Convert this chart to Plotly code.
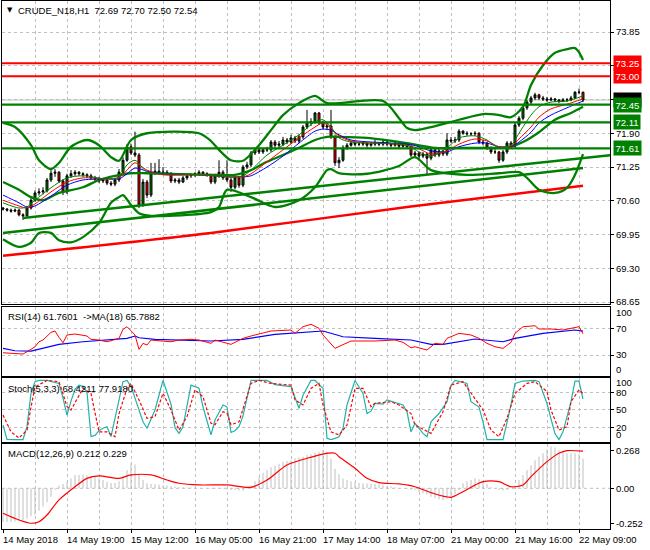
import plotly.graph_objects as go

# ---------------- DATA ----------------
bars = list(range(146))
x_label_bars = [0, 16, 32, 48, 64, 80, 96, 112, 128, 144]
x_labels = ["14 May 2018", "14 May 19:00", "15 May 12:00", "16 May 05:00", "16 May 21:00",
            "17 May 14:00", "18 May 07:00", "21 May 00:00", "21 May 16:00", "22 May 09:00"]

opens = [70.46,70.44,70.42,70.40,70.42,70.33,70.31,70.46,70.61,70.75,
         70.77,70.79,71.00,71.13,71.15,70.98,70.77,71.08,71.12,71.15,
         71.12,71.10,71.08,71.04,71.02,70.98,71.00,70.94,70.92,71.00,
         71.15,71.38,71.64,71.52,71.48,70.52,70.96,70.71,71.13,71.17,
         71.13,71.15,71.13,70.98,71.00,70.96,71.04,71.08,71.10,71.12,
         71.15,71.12,71.10,70.96,71.08,71.15,71.04,71.00,70.86,71.04,
         70.90,71.25,71.29,71.52,71.58,71.54,71.58,71.58,71.73,71.67,
         71.69,71.77,71.73,71.81,71.75,71.83,72.02,72.10,72.12,72.29,
         72.10,72.02,72.04,71.83,71.33,71.38,71.62,71.67,71.71,71.69,
         71.69,71.71,71.67,71.69,71.71,71.69,71.73,71.69,71.67,71.71,
         71.65,71.69,71.64,71.48,71.52,71.46,71.50,71.42,71.58,71.48,
         71.56,71.50,71.77,71.75,71.77,71.94,71.90,71.89,71.89,71.90,
         71.73,71.71,71.62,71.54,71.54,71.38,71.54,71.71,71.65,72.06,
         72.19,72.39,72.50,72.58,72.64,72.58,72.56,72.54,72.56,72.54,
         72.52,72.54,72.54,72.58,72.69,72.69]
highs = [70.48,70.46,70.45,70.45,70.44,70.36,70.50,70.65,70.80,70.84,
         70.86,71.04,71.19,71.21,71.17,71.02,71.12,71.19,71.19,71.17,
         71.15,71.13,71.12,71.08,71.06,71.04,71.02,70.98,71.04,71.21,
         71.44,71.69,71.70,71.93,71.52,71.02,71.00,71.33,71.33,71.40,
         71.25,71.19,71.15,71.04,71.04,71.08,71.12,71.13,71.15,71.19,
         71.17,71.15,71.12,71.12,71.38,71.19,71.38,71.04,71.08,71.08,
         71.29,71.35,71.56,71.62,71.62,71.62,71.64,71.77,71.77,71.75,
         71.83,71.81,71.87,71.85,71.88,72.06,72.35,72.19,72.31,72.31,
         72.14,72.10,72.35,71.87,71.44,71.67,71.71,71.75,71.73,71.73,
         71.75,71.73,71.73,71.77,71.73,71.79,71.77,71.71,71.75,71.73,
         71.73,71.71,71.67,71.56,71.54,71.54,71.52,71.62,71.60,71.60,
         71.58,71.90,71.83,71.83,71.98,71.96,71.94,71.92,71.94,71.92,
         71.77,71.73,71.65,71.60,71.56,71.58,71.75,71.75,72.10,72.23,
         72.44,72.54,72.62,72.68,72.66,72.62,72.60,72.60,72.58,72.56,
         72.58,72.58,72.62,72.71,72.76,72.70]
lows = [70.41,70.39,70.37,70.38,70.30,70.23,70.28,70.43,70.58,70.70,
        70.72,70.76,70.96,71.06,70.94,70.71,70.73,71.04,71.08,71.08,
        71.06,71.04,71.00,70.98,70.94,70.94,70.90,70.88,70.88,70.96,
        71.12,71.35,71.48,71.44,70.46,70.48,70.65,70.67,71.10,71.12,
        71.10,71.10,70.94,70.94,70.92,70.94,71.00,71.04,71.06,71.08,
        71.08,71.06,70.92,70.92,71.04,71.00,70.96,70.77,70.82,70.85,
        70.86,71.21,71.25,71.48,71.50,71.50,71.54,71.54,71.62,71.62,
        71.65,71.69,71.69,71.71,71.71,71.79,71.98,72.04,72.08,72.06,
        71.98,71.96,71.79,71.27,71.23,71.35,71.58,71.64,71.65,71.65,
        71.65,71.62,71.64,71.65,71.65,71.65,71.65,71.62,71.64,71.60,
        71.62,71.60,71.44,71.42,71.38,71.42,71.10,71.38,71.44,71.44,
        71.46,71.46,71.71,71.71,71.73,71.87,71.85,71.85,71.85,71.69,
        71.67,71.58,71.50,71.50,71.33,71.35,71.50,71.62,71.62,72.02,
        72.15,72.35,72.46,72.54,72.54,72.52,72.50,72.52,72.50,72.48,
        72.50,72.50,72.52,72.56,72.65,72.50]
closes = [70.44,70.42,70.40,70.42,70.33,70.31,70.46,70.61,70.75,70.77,
          70.79,71.00,71.13,71.15,70.98,70.77,71.08,71.12,71.15,71.12,
          71.10,71.08,71.04,71.02,70.98,71.00,70.94,70.92,71.00,71.15,
          71.38,71.64,71.52,71.48,70.52,70.96,70.71,71.13,71.17,71.13,
          71.15,71.13,70.98,71.00,70.96,71.04,71.08,71.10,71.12,71.15,
          71.12,71.10,70.96,71.08,71.15,71.04,71.00,70.86,71.04,70.90,
          71.25,71.29,71.52,71.58,71.54,71.58,71.58,71.73,71.67,71.69,
          71.77,71.73,71.81,71.75,71.83,72.02,72.10,72.12,72.29,72.10,
          72.02,72.04,71.83,71.33,71.38,71.62,71.67,71.71,71.69,71.69,
          71.71,71.67,71.69,71.71,71.69,71.73,71.69,71.67,71.71,71.65,
          71.69,71.64,71.48,71.52,71.46,71.50,71.42,71.58,71.48,71.56,
          71.50,71.77,71.75,71.77,71.94,71.90,71.89,71.89,71.90,71.73,
          71.71,71.62,71.54,71.54,71.38,71.54,71.71,71.65,72.06,72.19,
          72.39,72.50,72.58,72.64,72.58,72.56,72.54,72.56,72.54,72.52,
          72.54,72.54,72.58,72.69,72.69,72.54]

ma_bars = [0,4,6,8,12,16,20,26,29,31,33,36,40,50,56,60,62,66,70,74,78,80,82,84,87,
           101,104,107,111,114,118,121,124,127,129,132,134,137,141,145]
ma_fast = [70.56,70.46,70.48,70.61,70.85,71.04,71.08,71.02,71.06,71.29,71.38,71.15,71.12,71.10,71.06,
           71.08,71.19,71.48,71.67,71.87,72.12,72.16,72.02,71.81,71.73,71.67,71.54,71.46,71.62,71.81,
           71.85,71.77,71.62,71.67,71.90,72.25,72.41,72.50,72.52,72.62]
ma_mid = [70.61,70.50,70.46,70.54,70.77,70.96,71.04,71.02,71.04,71.19,71.33,71.19,71.10,71.10,71.06,
          71.06,71.12,71.35,71.58,71.81,72.02,72.10,72.00,71.85,71.75,71.67,71.60,71.50,71.56,71.69,
          71.79,71.75,71.64,71.65,71.79,72.02,72.21,72.37,72.46,72.56]
ma_slow = [70.71,70.56,70.48,70.50,70.69,70.90,71.00,71.02,71.02,71.12,71.23,71.17,71.12,71.10,71.06,
           71.06,71.08,71.25,71.46,71.71,71.94,71.98,71.96,71.87,71.77,71.69,71.64,71.56,71.54,71.64,
           71.71,71.71,71.64,71.64,71.73,71.92,72.10,72.25,72.39,72.52]

bb_up_bars = [0,3,7,9,12,14,17,21,24,27,29,32,36,49,52,54,57,60,64,67,70,74,78,81,95,99,101,103,107,
              114,120,124,127,130,132,135,138,141,143,144,145]
bb_up_vals = [72.10,72.02,71.67,71.38,71.21,71.33,71.64,71.77,71.67,71.44,71.37,71.77,71.90,71.90,71.75,
              71.58,71.38,71.37,71.67,71.96,72.25,72.48,72.62,72.48,72.52,72.19,72.00,71.96,72.02,72.16,
              72.27,72.25,72.21,72.41,72.83,73.21,73.45,73.52,73.54,73.46,73.31]
bb_mid_bars = [0,4,7,10,14,20,24,28,32,36,52,58,62,66,70,74,78,81,84,91,101,108,116,124,127,130,134,138,142,145]
bb_mid_vals = [70.96,70.81,70.67,70.61,70.75,70.86,71.00,71.08,71.13,71.13,71.10,71.10,71.19,71.35,71.48,
               71.62,71.77,71.83,71.83,71.81,71.71,71.62,71.62,71.62,71.64,71.73,71.92,72.16,72.29,72.41]
bb_lo_bars = [0,4,7,9,12,14,17,20,24,27,29,30,32,34,37,52,54,56,62,68,74,78,81,82,84,91,99,103,107,116,
              124,129,131,134,138,141,143,145]
bb_lo_vals = [69.86,69.71,69.79,69.98,69.98,69.84,69.80,69.90,70.17,70.56,70.67,70.71,70.52,70.36,70.31,
              70.38,70.48,70.81,70.67,70.48,70.61,70.86,71.19,71.21,71.13,71.12,71.27,71.44,71.19,71.10,
              71.13,71.15,71.04,70.81,70.75,70.85,71.10,71.50]

trend_a_bars = [5, 152]
trend_a_vals = [70.27, 71.48]
trend_b_bars = [0, 145]
trend_b_vals = [69.98, 71.23]
slow_red_bars = [0, 52, 102, 145]
slow_red_vals = [69.54, 69.98, 70.49, 70.89]

resistance_levels = [73.25, 73.00]
support_levels = [72.45, 72.11, 71.61]
last_price = 72.54
price_ticks = [68.65, 69.30, 69.95, 70.60, 71.25, 71.90, 72.55, 73.20, 73.85]

rsi_bars = [0,4,5,7,8,9,10,12,13,14,15,16,18,21,22,24,26,27,29,30,31,32,33,34,35,36,37,39,42,44,
            47,49,52,53,55,57,58,60,62,67,72,73,75,77,79,80,83,85,87,93,96,98,100,102,103,106,108,110,111,114,
            117,119,121,123,125,127,128,130,133,134,137,140,142,144,145]
rsi_vals = [33.4,31.0,31.5,38.5,42.4,49.9,52.5,64.0,66.0,56.5,48.4,60.0,61.5,58.5,53.5,52.5,49.9,51.4,55.0,68.5,
            72.4,66.4,60.0,38.5,47.5,45.0,52.5,51.4,49.9,52.5,53.5,52.5,47.5,52.5,49.0,46.0,49.0,55.0,58.5,66.0,
            67.5,62.5,72.4,76.0,70.0,60.0,40.0,46.0,51.0,51.0,52.5,52.5,49.0,40.9,42.4,37.5,47.5,46.0,55.0,62.5,
            60.0,55.0,47.5,42.4,40.0,49.0,62.5,72.4,73.9,69.0,69.0,67.5,70.0,72.4,61.76]
rsima_bars = [0,3,7,10,14,20,24,31,33,34,38,45,52,60,68,80,85,93,102,107,110,118,125,128,135,143,145]
rsima_vals = [40.0,36.4,36.0,40.0,46.0,49.9,51.4,55.0,58.5,55.9,53.5,52.5,51.0,53.5,61.0,66.0,57.4,55.0,
              52.5,46.0,46.0,54.0,49.9,55.0,62.5,67.5,65.79]

stk_bars = [0,1,3,5,6,7,8,9,11,12,13,14,15,16,17,18,19,20,21,22,23,24,25,26,27,28,29,30,31,32,
            33,34,35,36,38,39,40,42,43,44,45,47,49,50,52,53,55,56,57,58,59,60,62,66,68,72,73,74,75,77,
            78,80,81,82,83,84,85,86,88,90,91,92,93,95,96,98,100,101,102,103,105,106,107,109,111,112,113,116,117,119,
            120,121,125,127,128,130,133,134,136,137,138,139,140,142,143,144,145]
stk_vals = [24.6,0.3,0.0,0.0,21.7,78.0,98.0,100.0,100.0,98.0,97.0,95.0,70.0,41.5,65.0,85.0,92.0,90.0,80.0,5.0,
            7.0,15.0,19.0,21.7,5.0,36.0,70.0,98.0,100.0,90.0,70.0,50.0,30.0,19.0,50.0,75.0,100.0,60.0,20.0,10.5,
            21.7,92.0,86.7,55.0,8.0,33.0,58.5,55.0,12.0,15.0,21.7,40.0,100.0,100.0,93.0,89.5,72.5,53.0,75.0,100.0,
            100.0,86.7,2.0,0.0,2.0,4.7,19.0,58.5,100.0,78.0,44.0,48.0,61.0,60.0,67.0,63.0,58.5,47.0,13.0,27.5,
            10.5,4.7,30.0,44.0,64.0,92.0,100.0,95.0,64.0,55.0,30.0,0.0,0.0,58.5,95.0,99.0,100.0,98.0,61.0,35.0,
            10.0,0.0,13.0,64.0,99.0,99.0,68.42]
sig_st_bars = [0,2,4,6,7,8,11,14,16,17,20,22,24,26,28,29,31,32,34,36,38,40,42,44,46,48,50,52,53,55,
               56,57,59,62,64,67,72,73,75,77,79,80,82,84,86,88,90,92,93,97,99,102,103,106,107,110,112,115,117,120,
               122,124,126,128,131,133,136,137,139,141,142,144,145]
sig_st_vals = [41.5,13.0,2.5,16.0,55.0,89.0,100.0,98.0,56.0,50.0,86.7,78.0,13.0,13.0,4.7,44.0,86.7,95.0,67.0,36.0,
               38.6,78.3,50.0,16.0,38.6,84.0,72.5,27.5,25.0,47.0,45.0,25.0,30.0,95.0,100.0,95.0,92.0,67.0,58.5,86.7,
               95.0,58.5,13.0,7.6,24.6,86.7,86.7,55.6,61.4,64.0,58.5,44.0,24.6,13.0,10.5,47.0,92.0,98.0,78.0,50.0,
               16.0,4.7,36.0,78.0,95.0,98.0,81.0,50.0,16.0,21.7,64.0,84.0,77.92]

macd_hist = [-0.238,-0.240,-0.240,-0.236,-0.230,-0.225,-0.215,-0.200,-0.190,-0.160,
             -0.130,-0.100,-0.060,-0.010,0.020,0.030,0.047,0.070,0.095,0.095,
             0.097,0.092,0.085,0.080,0.071,0.060,0.045,0.037,0.040,0.050,
             0.090,0.130,0.178,0.170,0.100,0.060,0.036,0.030,0.028,0.025,
             0.022,0.020,0.015,0.012,0.010,0.008,0.006,0.005,0.004,0.003,
             0.002,0.000,-0.004,-0.005,0.004,-0.003,-0.008,-0.012,-0.012,-0.015,
             -0.017,-0.005,0.020,0.050,0.083,0.110,0.130,0.150,0.160,0.175,
             0.190,0.195,0.200,0.214,0.220,0.225,0.237,0.245,0.255,0.260,
             0.273,0.260,0.210,0.140,0.100,0.070,0.060,0.050,0.045,0.040,
             0.036,0.035,0.033,0.030,0.028,0.025,0.016,0.012,0.008,0.003,
             0.000,-0.005,-0.010,-0.012,-0.025,-0.036,-0.045,-0.060,-0.070,-0.078,
             -0.083,-0.075,-0.060,-0.040,-0.012,0.036,0.050,0.059,0.071,0.065,
             0.050,0.030,0.010,0.000,-0.012,-0.015,-0.012,0.000,0.020,0.059,
             0.095,0.130,0.165,0.200,0.225,0.250,0.275,0.297,0.290,0.270,
             0.260,0.250,0.250,0.250,0.245,0.212]
macd_sig_bars = [0,4,7,9,11,14,18,21,24,29,32,37,41,44,49,56,62,66,71,76,80,83,84,88,91,94,99,103,107,112,
                 115,120,124,127,130,132,136,139,141,145]
macd_sig_vals = [-0.178,-0.226,-0.249,-0.238,-0.19,-0.083,0.011,0.071,0.088,0.071,0.095,0.095,0.059,0.036,0.024,
                 0.024,0.007,0.059,0.166,0.214,0.244,0.25,0.225,0.143,0.071,0.04,0.031,0.011,-0.031,-0.064,
                 -0.024,0.047,0.047,0.011,0.024,0.083,0.19,0.25,0.268,0.265]
macd_ticks = [0.268, 0.0, -0.252]
macd_ticktext = ["0.268", "0.00", "-0.252"]

# ---------------- STYLE ----------------
FONT = "Liberation Sans, Arial, sans-serif"
FS = 9.5
GRID = "#C0C0C0"
DASH = "3px,3px"
GREEN = "#008000"
RED = "#FF0000"
XR = [-0.25, 151.75]

fig = go.Figure()

fig.add_trace(go.Candlestick(
    x=bars, open=opens, high=highs, low=lows, close=closes,
    increasing=dict(line=dict(color="black", width=1), fillcolor=GREEN),
    decreasing=dict(line=dict(color="black", width=1), fillcolor=RED),
    whiskerwidth=0, xaxis="x", yaxis="y", hoverinfo="skip"))

def line(xs, ys, color, width, ax="x", ay="y", shape="spline", dash="solid"):
    fig.add_trace(go.Scatter(x=xs, y=ys, mode="lines", xaxis=ax, yaxis=ay,
                             line=dict(color=color, width=width, shape=shape, dash=dash,
                                       smoothing=0.8 if shape == "spline" else None),
                             hoverinfo="skip"))

line(slow_red_bars, slow_red_vals, RED, 2.5)
line(trend_a_bars, trend_a_vals, GREEN, 2.5, shape="linear")
line(trend_b_bars, trend_b_vals, GREEN, 2.5, shape="linear")
line(bb_up_bars, bb_up_vals, GREEN, 2.3)
line(bb_mid_bars, bb_mid_vals, GREEN, 2.3)
line(bb_lo_bars, bb_lo_vals, GREEN, 2.3)
line(ma_bars, ma_slow, "#0000FF", 1)
line(ma_bars, ma_mid, RED, 1)
line(ma_bars, ma_fast, GREEN, 1)

line(rsima_bars, rsima_vals, "#0000FF", 1.2, "x2", "y2", shape="linear")
line(rsi_bars, rsi_vals, RED, 1, "x2", "y2", shape="linear")

line(stk_bars, stk_vals, "#20B2AA", 1.2, "x3", "y3", shape="linear")
line(sig_st_bars, sig_st_vals, RED, 1.2, "x3", "y3", shape="linear", dash="3px,2px")

fig.add_trace(go.Bar(x=bars, y=macd_hist, width=0.25, marker=dict(color="#C0C0C0", line=dict(width=0)),
                     xaxis="x4", yaxis="y4", hoverinfo="skip"))
line(macd_sig_bars, macd_sig_vals, RED, 1.2, "x4", "y4")

def xax(anchor, bottom=False):
    d = dict(range=XR, anchor=anchor, showline=True, mirror=True, linecolor="black", linewidth=1,
             zeroline=False, showticklabels=False, rangeslider=dict(visible=False),
             showgrid=True, gridcolor=GRID, griddash=DASH, gridwidth=1, tickmode="linear", tick0=0)
    if bottom:
        d.update(dtick=16, ticks="outside", ticklen=3, tickcolor="black",
                 minor=dict(tickmode="linear", tick0=0, dtick=8, showgrid=True, gridcolor=GRID,
                            griddash=DASH, ticks=""))
    else:
        d.update(dtick=8, ticks="")
    return d

def yax(domain, rng, tickvals, ticktext, grid=True):
    return dict(domain=domain, range=rng, side="right", showline=True, mirror=True,
                linecolor="black", linewidth=1, zeroline=False, tickmode="array",
                tickvals=tickvals, ticktext=ticktext, ticks="outside", ticklen=3, tickcolor="black",
                showgrid=grid, gridcolor=GRID, griddash=DASH, gridwidth=1,
                tickfont=dict(family=FONT, size=FS, color="black"))

ym = yax([0.4252, 1.0], [68.602, 74.447], price_ticks, ["%.2f" % v for v in price_ticks])
ym["anchor"] = "x"
yr = yax([0.2903, 0.4210], [-1.0, 102.4], [70, 30], ["70", "30"])
yr["anchor"] = "x2"
ys = yax([0.1653, 0.2866], [-3.7, 104.7], [80, 50, 20], ["80", "50", "20"])
ys["anchor"] = "x3"
yc = yax([0.0, 0.1610], [-0.290, 0.3157], macd_ticks, macd_ticktext, grid=False)
yc["anchor"] = "x4"

x1 = xax("y"); x2 = xax("y2"); x3 = xax("y3"); x4 = xax("y4", bottom=True)
for d in (x2, x3, x4):
    d["matches"] = "x"

fig.update_layout(
    width=650, height=550, margin=dict(l=2, r=40, t=1, b=21, autoexpand=False),
    paper_bgcolor="white", plot_bgcolor="white", showlegend=False,
    font=dict(family=FONT, size=FS, color="black"), boxgap=0.3,
    xaxis=x1, xaxis2=x2, xaxis3=x3, xaxis4=x4,
    yaxis=ym, yaxis2=yr, yaxis3=ys, yaxis4=yc,
)

shapes = []
shapes.append(dict(type="line", xref="x domain", yref="y", x0=0, x1=1, y0=last_price, y1=last_price,
                   line=dict(color="#C0C0C0", width=1), layer="below"))
for lv in resistance_levels:
    shapes.append(dict(type="line", xref="x domain", yref="y", x0=0, x1=1, y0=lv, y1=lv,
                       line=dict(color=RED, width=2)))
for lv in support_levels:
    shapes.append(dict(type="line", xref="x domain", yref="y", x0=0, x1=1, y0=lv, y1=lv,
                       line=dict(color=GREEN, width=2.2)))
shapes.append(dict(type="line", xref="x4 domain", yref="y4", x0=0, x1=1, y0=0, y1=0,
                   line=dict(color="#C0C0C0", width=1, dash=DASH), layer="below"))
fig.update_layout(shapes=shapes)

ann = []
def box(v, bg, txt):
    ann.append(dict(xref="paper", yref="y", x=1, y=v, xanchor="left", yanchor="middle", xshift=3,
                    text=txt, showarrow=False, bgcolor=bg, borderpad=1.5,
                    font=dict(family=FONT, size=FS, color="white")))
box(last_price, "black", "%.2f" % last_price)
for lv in resistance_levels:
    box(lv, RED, "%.2f" % lv)
for lv in support_levels:
    box(lv, GREEN, "%.2f" % lv)

ann.append(dict(xref="paper", yref="paper", x=0, y=1, xanchor="left", yanchor="top", xshift=3, yshift=-3,
                text="▼", showarrow=False, font=dict(family="DejaVu Sans", size=7, color="black")))
ann.append(dict(xref="paper", yref="paper", x=0, y=1, xanchor="left", yanchor="top", xshift=14, yshift=-2,
                text="CRUDE_N18,H1&nbsp;&nbsp;72.69 72.70 72.50 72.54", showarrow=False,
                font=dict(family=FONT, size=FS, color="black")))
ann.append(dict(xref="paper", yref="paper", x=0, y=0.4210, xanchor="left", yanchor="top", xshift=4, yshift=-2,
                text="RSI(14) 61.7601&nbsp;&nbsp;->MA(18) 65.7882", showarrow=False,
                font=dict(family=FONT, size=FS, color="black")))
ann.append(dict(xref="paper", yref="paper", x=0, y=0.2866, xanchor="left", yanchor="top", xshift=4, yshift=-3,
                text="Stoch(5,3,3) 68.4211 77.9180", showarrow=False,
                font=dict(family=FONT, size=FS, color="black")))
ann.append(dict(xref="paper", yref="paper", x=0, y=0.1610, xanchor="left", yanchor="top", xshift=4, yshift=-2,
                text="MACD(12,26,9) 0.212 0.229", showarrow=False,
                font=dict(family=FONT, size=FS, color="black")))

def edge(yref, v, txt, shift):
    ann.append(dict(xref="paper", yref=yref, x=1, y=v, xanchor="left", yanchor="middle", xshift=4,
                    yshift=shift, text=txt, showarrow=False,
                    font=dict(family=FONT, size=FS, color="black")))
edge("y2", 100, "100", -4.5)
edge("y2", 0, "0", 6)
edge("y3", 100, "100", -2.5)
edge("y3", 0, "0", 5)

for b, t in zip(x_label_bars, x_labels):
    ann.append(dict(xref="x4", yref="paper", x=b, y=0, xanchor="left", yanchor="top", xshift=-2, yshift=-3,
                    text=t, showarrow=False, font=dict(family=FONT, size=FS, color="black")))

fig.update_layout(annotations=ann)
fig.write_html("out.html", config={"displayModeBar": False, "staticPlot": True},
               post_script="document.body.style.margin='0';document.body.style.overflow='hidden';")
